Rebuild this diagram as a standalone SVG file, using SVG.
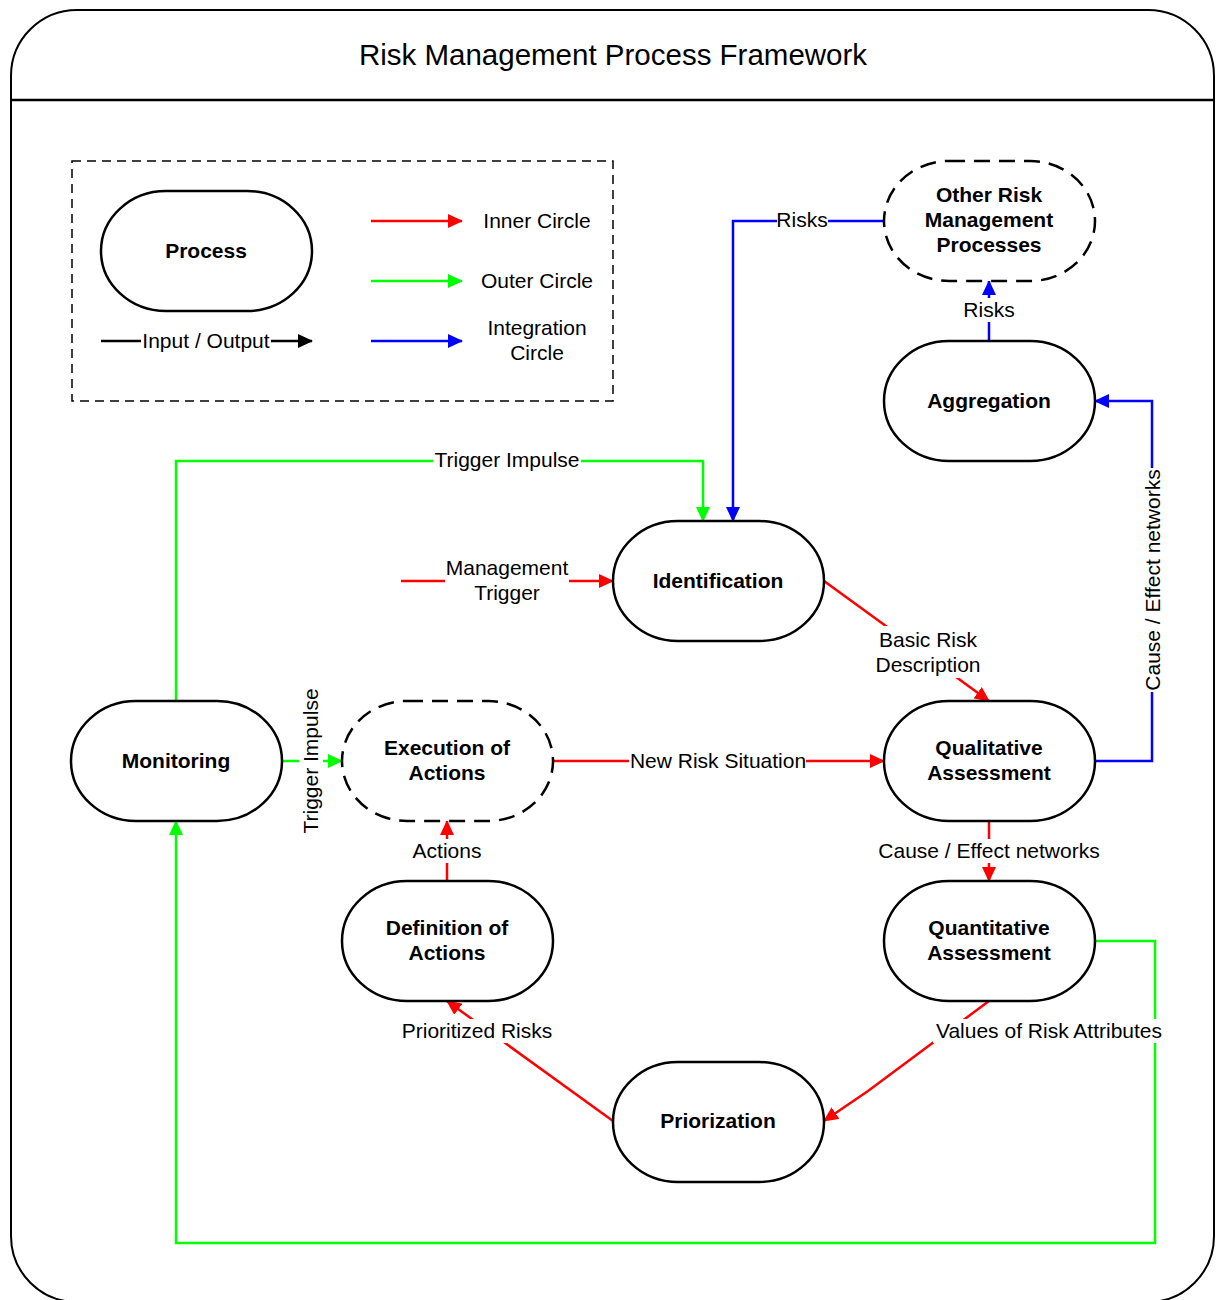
<svg xmlns="http://www.w3.org/2000/svg" width="1216" height="1300" viewBox="0 0 1216 1300">
  <style>
    .frame { fill: #fff; stroke: #000; stroke-width: 2; }
    .node { fill: #fff; stroke: #000; stroke-width: 2.5; }
    .dashed { stroke-dasharray: 16 9; }
    .legend { fill: none; stroke: #000; stroke-width: 1.5; stroke-dasharray: 9 6; }
    .title { font-family: "Liberation Sans", Arial, sans-serif; font-size: 29.5px; text-anchor: middle; fill: #000; }
    .ntext { font-family: "Liberation Sans", Arial, sans-serif; font-size: 21px; font-weight: bold; text-anchor: middle; fill: #000; }
    .ltext { font-family: "Liberation Sans", Arial, sans-serif; font-size: 21px; text-anchor: middle; fill: #000; }
    .lbg { fill: #fff; stroke: none; }
    .red { fill: none; stroke: #ff0000; stroke-width: 2.5; }
    .green { fill: none; stroke: #00ff00; stroke-width: 2.5; }
    .blue { fill: none; stroke: #0000ff; stroke-width: 2.5; }
    .black { fill: none; stroke: #000; stroke-width: 2.5; }
  </style>
  <defs>
    <marker id="arrR" viewBox="0 0 15 14" refX="14" refY="7" markerWidth="15" markerHeight="14" markerUnits="userSpaceOnUse" orient="auto">
      <path d="M0,0 L15,7 L0,14 z" fill="#ff0000"/>
    </marker>
    <marker id="arrG" viewBox="0 0 15 14" refX="14" refY="7" markerWidth="15" markerHeight="14" markerUnits="userSpaceOnUse" orient="auto">
      <path d="M0,0 L15,7 L0,14 z" fill="#00ff00"/>
    </marker>
    <marker id="arrB" viewBox="0 0 15 14" refX="14" refY="7" markerWidth="15" markerHeight="14" markerUnits="userSpaceOnUse" orient="auto">
      <path d="M0,0 L15,7 L0,14 z" fill="#0000ff"/>
    </marker>
    <marker id="arrK" viewBox="0 0 15 14" refX="14" refY="7" markerWidth="15" markerHeight="14" markerUnits="userSpaceOnUse" orient="auto">
      <path d="M0,0 L15,7 L0,14 z" fill="#000"/>
    </marker>
  </defs>

  <!-- outer frame with header band -->
  <g id="frame">
    <rect class="frame" x="11" y="10" width="1203" height="1292" rx="66" ry="66"/>
    <line x1="11" y1="100" x2="1214" y2="100" stroke="#000" stroke-width="2.5"/>
    <text class="title" x="613" y="65">Risk Management Process Framework</text>
  </g>

  <!-- legend -->
  <g id="legend">
    <rect class="legend" x="72" y="161" width="541" height="240"/>
    <rect class="node" x="101" y="191" width="211" height="120" rx="65" ry="60"/>
    <text class="ntext" x="206" y="258">Process</text>
    <line class="red" x1="371" y1="221" x2="462" y2="221" marker-end="url(#arrR)"/>
    <line class="green" x1="371" y1="281" x2="462" y2="281" marker-end="url(#arrG)"/>
    <line class="blue" x1="371" y1="341" x2="462" y2="341" marker-end="url(#arrB)"/>
    <line class="black" x1="101" y1="341" x2="312" y2="341" marker-end="url(#arrK)"/>
    <rect class="lbg" x="141" y="329" width="130" height="24"/>
    <text class="ltext" x="206" y="348">Input / Output</text>
    <text class="ltext" x="537" y="228">Inner Circle</text>
    <text class="ltext" x="537" y="288">Outer Circle</text>
    <text class="ltext" x="537" y="335">Integration</text>
    <text class="ltext" x="537" y="360">Circle</text>
  </g>

  <!-- connectors -->
  <g id="connectors">
    <!-- integration circle -->
    <polyline class="blue" points="884,221 733,221 733,521" marker-end="url(#arrB)"/>
    <line class="blue" x1="989" y1="341" x2="989" y2="281" marker-end="url(#arrB)"/>
    <polyline class="blue" points="1095,761 1152,761 1152,401 1095,401" marker-end="url(#arrB)"/>
    <!-- outer circle -->
    <polyline class="green" points="176,701 176,461 703,461 703,521" marker-end="url(#arrG)"/>
    <line class="green" x1="282" y1="761" x2="342" y2="761" marker-end="url(#arrG)"/>
    <polyline class="green" points="1095,941 1155,941 1155,1243 176,1243 176,821" marker-end="url(#arrG)"/>
    <!-- inner circle -->
    <line class="red" x1="401" y1="581" x2="613" y2="581" marker-end="url(#arrR)"/>
    <line class="red" x1="824" y1="581" x2="989" y2="701" marker-end="url(#arrR)"/>
    <line class="red" x1="553" y1="761" x2="884" y2="761" marker-end="url(#arrR)"/>
    <line class="red" x1="989" y1="821" x2="989" y2="881" marker-end="url(#arrR)"/>
    <polyline class="red" points="989,1001 868,1091 824,1121" marker-end="url(#arrR)"/>
    <line class="red" x1="613" y1="1121" x2="447" y2="1001" marker-end="url(#arrR)"/>
    <line class="red" x1="447" y1="881" x2="447" y2="821" marker-end="url(#arrR)"/>

    <!-- connector labels -->
    <rect class="lbg" x="777" y="208" width="51" height="24"/>
    <text class="ltext" x="802" y="227">Risks</text>
    <rect class="lbg" x="963" y="298" width="52" height="24"/>
    <text class="ltext" x="989" y="317">Risks</text>
    <g transform="translate(1153,580) rotate(-90)">
      <rect class="lbg" x="-112" y="-12" width="224" height="24"/>
      <text class="ltext" x="0" y="7">Cause / Effect networks</text>
    </g>
    <rect class="lbg" x="433" y="448" width="148" height="24"/>
    <text class="ltext" x="507" y="467">Trigger Impulse</text>
    <g transform="translate(311,761) rotate(-90)">
      <rect class="lbg" x="-75" y="-12" width="150" height="24"/>
      <text class="ltext" x="0" y="7">Trigger Impulse</text>
    </g>
    <rect class="lbg" x="445" y="555" width="124" height="50"/>
    <text class="ltext" x="507" y="575">Management</text>
    <text class="ltext" x="507" y="600">Trigger</text>
    <rect class="lbg" x="875" y="626" width="107" height="52"/>
    <text class="ltext" x="928" y="647">Basic Risk</text>
    <text class="ltext" x="928" y="672">Description</text>
    <rect class="lbg" x="629" y="749" width="177" height="24"/>
    <text class="ltext" x="718" y="768">New Risk Situation</text>
    <rect class="lbg" x="876" y="839" width="226" height="24"/>
    <text class="ltext" x="989" y="858">Cause / Effect networks</text>
    <rect class="lbg" x="412" y="839" width="70" height="24"/>
    <text class="ltext" x="447" y="858">Actions</text>
    <rect class="lbg" x="401" y="1019" width="152" height="24"/>
    <text class="ltext" x="477" y="1038">Prioritized Risks</text>
    <rect class="lbg" x="933" y="1019" width="232" height="24"/>
    <text class="ltext" x="1049" y="1038">Values of Risk Attributes</text>
  </g>

  <!-- process nodes -->
  <g id="other-processes">
    <rect class="node dashed" x="884" y="161" width="211" height="120" rx="65" ry="60"/>
    <text class="ntext" x="989" y="202">Other Risk</text>
    <text class="ntext" x="989" y="227">Management</text>
    <text class="ntext" x="989" y="252">Processes</text>
  </g>
  <g id="aggregation">
    <rect class="node" x="884" y="341" width="211" height="120" rx="65" ry="60"/>
    <text class="ntext" x="989" y="408">Aggregation</text>
  </g>
  <g id="identification">
    <rect class="node" x="613" y="521" width="211" height="120" rx="65" ry="60"/>
    <text class="ntext" x="718" y="588">Identification</text>
  </g>
  <g id="monitoring">
    <rect class="node" x="71" y="701" width="211" height="120" rx="65" ry="60"/>
    <text class="ntext" x="176" y="768">Monitoring</text>
  </g>
  <g id="execution">
    <rect class="node dashed" x="342" y="701" width="211" height="120" rx="65" ry="60"/>
    <text class="ntext" x="447" y="755">Execution of</text>
    <text class="ntext" x="447" y="780">Actions</text>
  </g>
  <g id="qualitative">
    <rect class="node" x="884" y="701" width="211" height="120" rx="65" ry="60"/>
    <text class="ntext" x="989" y="755">Qualitative</text>
    <text class="ntext" x="989" y="780">Assessment</text>
  </g>
  <g id="definition">
    <rect class="node" x="342" y="881" width="211" height="120" rx="65" ry="60"/>
    <text class="ntext" x="447" y="935">Definition of</text>
    <text class="ntext" x="447" y="960">Actions</text>
  </g>
  <g id="quantitative">
    <rect class="node" x="884" y="881" width="211" height="120" rx="65" ry="60"/>
    <text class="ntext" x="989" y="935">Quantitative</text>
    <text class="ntext" x="989" y="960">Assessment</text>
  </g>
  <g id="priorization">
    <rect class="node" x="613" y="1062" width="211" height="120" rx="65" ry="60"/>
    <text class="ntext" x="718" y="1128">Priorization</text>
  </g>
</svg>
